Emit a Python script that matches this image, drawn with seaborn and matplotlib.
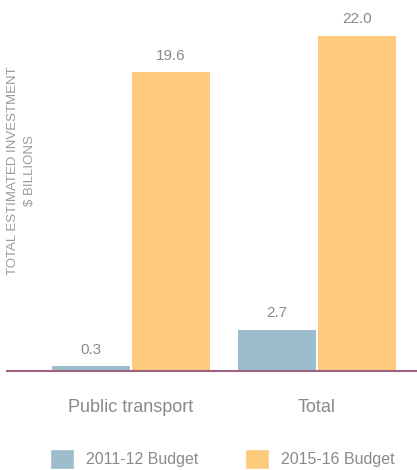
import matplotlib
matplotlib.use("Agg")
import matplotlib.pyplot as plt
import seaborn as sns
import pandas as pd
from matplotlib.patches import Patch

categories = ["Public transport", "Total"]
series = ["2011-12 Budget", "2015-16 Budget"]
budget_2011 = [0.3, 2.7]
budget_2015 = [19.6, 22.0]
colors = ["#9dbdcd", "#fdc97b"]

df = pd.DataFrame({
    "category": categories * 2,
    "series": [series[0]] * 2 + [series[1]] * 2,
    "value": budget_2011 + budget_2015,
})

sns.set_style("white")
plt.rcParams["font.family"] = ["Liberation Sans", "DejaVu Sans"]

W, H = 417, 470
fig = plt.figure(figsize=(W / 100, H / 100), dpi=100)
ax = fig.add_axes([7 / W, (H - 371) / H, 410 / W, 371 / H])

sns.barplot(data=df, x="category", y="value", hue="series", palette=colors,
            width=0.86, gap=0.025, ax=ax, legend=False, saturation=1,
            linewidth=0)

ax.set_xlim(-0.667, 1.538)
ax.set_ylim(0, 24.36)
for c in ax.containers:
    ax.bar_label(c, fmt="%.1f", padding=7, color="#8a8a8a", fontsize=11)

for s in ["top", "right", "left"]:
    ax.spines[s].set_visible(False)
ax.spines["bottom"].set_color("#a0607f")
ax.spines["bottom"].set_linewidth(1.5)
ax.set_yticks([])
ax.set_xlabel("")
ax.set_ylabel("")
ax.tick_params(axis="x", length=0, pad=20, labelsize=13, labelcolor="#8a8a8a")

fig.text(21.5 / W, 1 - 171 / H, "TOTAL ESTIMATED INVESTMENT\n$ BILLIONS",
         rotation=90, ha="center", va="center", multialignment="center",
         fontsize=9.5, color="#9a9a9a", linespacing=1.5)

handles = [Patch(facecolor=colors[0]), Patch(facecolor=colors[1])]
fig.legend(handles, series, loc="center left", bbox_to_anchor=(36 / W, 1 - 459 / H),
           ncol=2, frameon=False, handlelength=1.5, handleheight=1.6,
           handletextpad=0.75, columnspacing=2.9, fontsize=11.5,
           labelcolor="#8a8a8a")

fig.savefig("out.png", dpi=100)
